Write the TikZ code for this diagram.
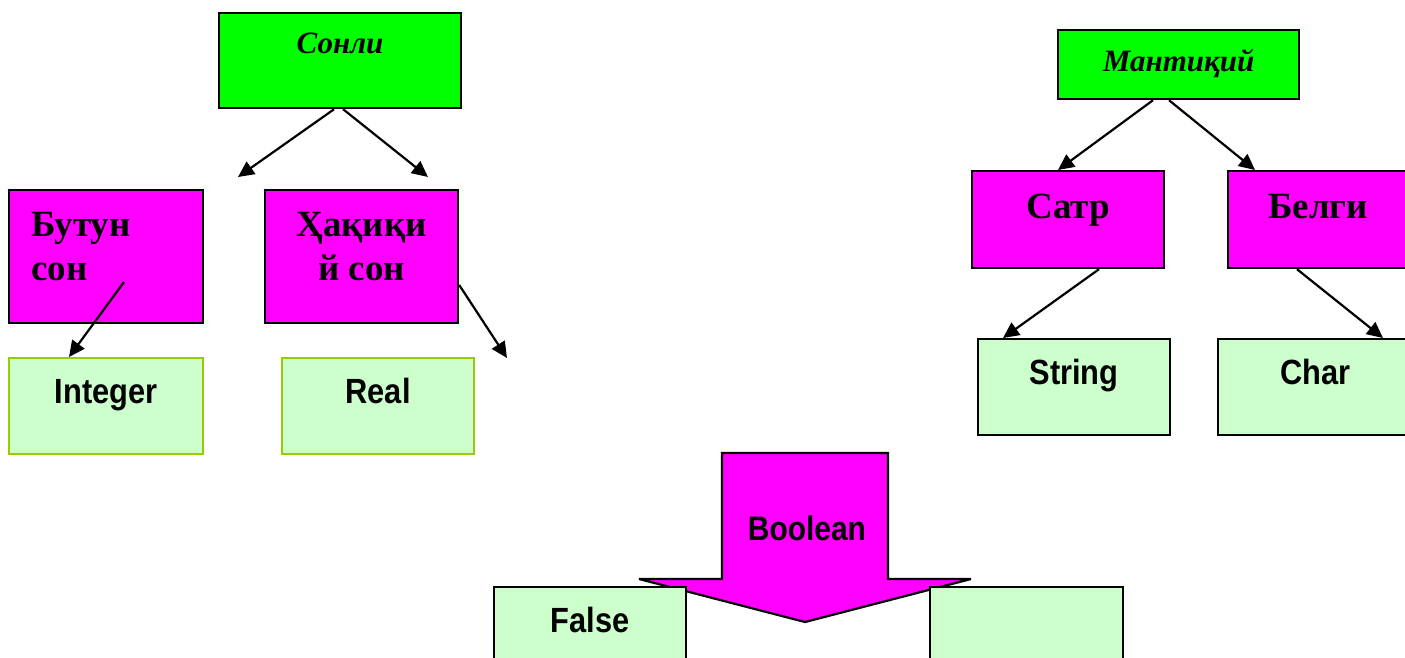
\documentclass[tikz,border=0pt]{standalone}
\usepackage{fontspec}
\setmainfont{Liberation Serif}
\newfontfamily\narrowsf[FakeStretch=0.88]{Liberation Sans}
\usetikzlibrary{arrows.meta,calc}
\definecolor{magentabox}{RGB}{255,0,255}
\definecolor{greenbox}{RGB}{0,255,0}
\definecolor{lightgreen}{RGB}{204,255,204}
\definecolor{limeborder}{RGB}{153,204,0}
\begin{document}
\begin{tikzpicture}[x=1pt,y=-1pt,
  boxbase/.style={draw=black, line width=2.2pt, inner sep=0pt, anchor=north west},
  headbox/.style={boxbase, fill=greenbox, font=\fontsize{31}{36}\selectfont\bfseries\itshape},
  typebox/.style={boxbase, fill=magentabox, font=\fontsize{37}{44}\selectfont\bfseries},
  valbox/.style={boxbase, fill=lightgreen, font=\narrowsf\bfseries\fontsize{35}{40}\selectfont, minimum width=192pt, text height=45pt, text depth=51pt},
  limebox/.style={valbox, draw=limeborder},
  link/.style={line width=2.2pt, -{Triangle[length=16pt,width=15pt]}},
  boolarrow/.style={fill=magentabox, draw=black, line width=2.2pt, line join=miter, miter limit=2}
]
\clip (0,0) rectangle (1405,657);
\fill[white] (0,0) rectangle (1405,657);

% left tree
\node[headbox, minimum width=242pt, text height=40pt, text depth=55pt] (sonli) at (218,12) {Сонли};
\node[typebox, minimum width=194pt, text height=46pt, text depth=87pt] (butun) at (8,189)
  {\makebox[194pt][l]{\hspace{22pt}\begin{tabular}[t]{@{}l@{}}Бутун\\сон\end{tabular}}};
\node[typebox, minimum width=193pt, text height=46pt, text depth=87pt] (haqiqiy) at (264,189)
  {\begin{tabular}[t]{@{}c@{}}Ҳақиқи\\й сон\end{tabular}};
\node[limebox, minimum width=194pt] (integer) at (8,357) {Integer};
\node[limebox] (real) at (281,357) {Real};

\coordinate (sonliL) at (238,177);
\coordinate (sonliR) at (428,177);
\coordinate (butunStart) at (124,282);
\coordinate (haqiqiyEnd) at (507,358);
\draw[link] ($(sonli.south)+(-6,0)$) -- (sonliL);
\draw[link] ($(sonli.south)+(3,0)$) -- (sonliR);
\draw[link] (butunStart) -- ($(integer.north west)+(61,0)$);
\draw[link] ($(haqiqiy.north east)+(0,96)$) -- (haqiqiyEnd);

% right tree
\node[headbox, minimum width=241pt, text height=41pt, text depth=28pt] (mantiqiy) at (1057,29) {Мантиқий};
\node[typebox, minimum width=192pt, text height=47pt, text depth=50pt] (satr) at (971,170) {Сатр};
\node[typebox, minimum width=180pt, text height=47pt, text depth=50pt] (belgi) at (1227,170) {Белги};
\node[valbox] (string) at (977,338) {String};
\node[valbox, minimum width=194pt] (char) at (1217,338) {Char};

\draw[link] ($(mantiqiy.south west)+(96,0)$) -- ($(satr.north west)+(87,0)$);
\draw[link] ($(mantiqiy.south west)+(112,0)$) -- ($(belgi.north west)+(28,0)$);
\draw[link] ($(satr.south west)+(128,0)$) -- ($(string.north west)+(26,0)$);
\draw[link] ($(belgi.south west)+(70,0)$) -- ($(char.north west)+(166,0)$);

% boolean
\draw[boolarrow] (722,453) -- (888,453) -- (888,579) -- (971,579) -- (805,622) -- (639,579) -- (722,579) -- cycle;
\node[font=\narrowsf\bfseries\fontsize{34}{40}\selectfont, anchor=base, inner sep=0pt] (boolean) at (807,540) {Boolean};
\node[valbox] (false) at (493,586) {False};
\node[valbox, minimum width=193pt] (truebox) at (929,586) {};
\end{tikzpicture}
\end{document}
